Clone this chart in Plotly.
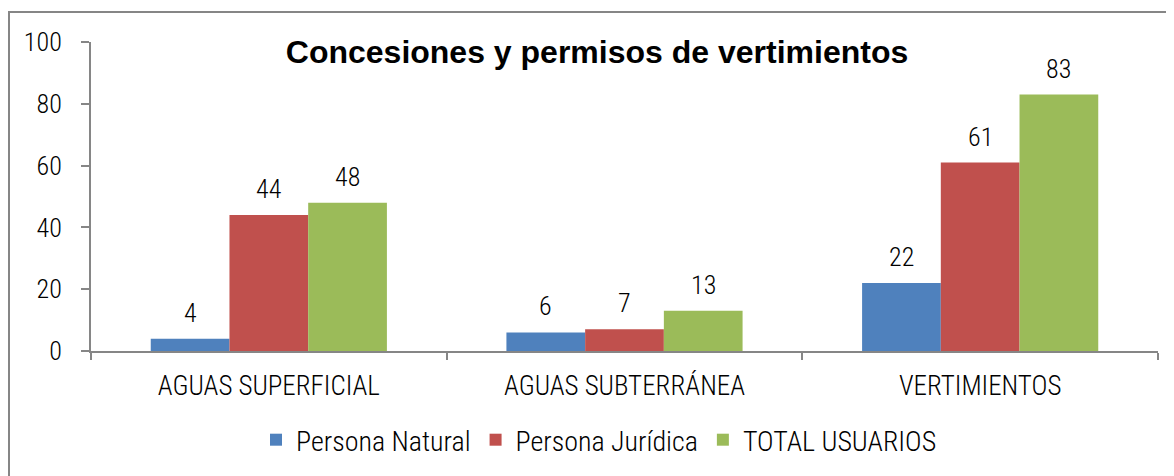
import plotly.graph_objects as go

categories = ["AGUAS SUPERFICIAL", "AGUAS SUBTERRÁNEA", "VERTIMIENTOS"]
persona_natural = [4, 6, 22]
persona_juridica = [44, 7, 61]
total_usuarios = [48, 13, 83]
y_ticks = [0, 20, 40, 60, 80, 100]

series = [
    ("Persona Natural", persona_natural, "#4F81BD"),
    ("Persona Jurídica", persona_juridica, "#C0504D"),
    ("TOTAL USUARIOS", total_usuarios, "#9BBB59"),
]

NARROW = "Liberation Sans Narrow, Arial Narrow, Roboto Condensed, sans-serif"
BARGAP = 0.336

fig = go.Figure()
for name, vals, color in series:
    fig.add_trace(go.Bar(
        x=categories, y=vals, name=name,
        marker=dict(color=color, line=dict(width=0)),
    ))

# value labels above bars
n = len(series)
slot = (1 - BARGAP) / n
annotations = []
for si, (name, vals, color) in enumerate(series):
    for ci, v in enumerate(vals):
        annotations.append(dict(
            x=ci + (si - (n - 1) / 2) * slot, y=v, xref="x", yref="y",
            text=str(v), showarrow=False, yanchor="middle", yshift=26,
            font=dict(family=NARROW, size=26, color="#000000", weight=300),
        ))

# page body adds an 8px offset; positions below are figure pixels
W, H = 1166, 468
L, R, T, B = 83, 16, 34, 124
pw, ph = W - L - R, H - T - B

def px_x(x):
    return (x - L) / pw

def px_y(y):
    return (H - B - y) / ph

fig.update_layout(
    width=W, height=H,
    margin=dict(l=L, r=R, t=T, b=B),
    paper_bgcolor="white", plot_bgcolor="white",
    barmode="group", bargap=BARGAP, bargroupgap=0,
    title=dict(
        text="<b>Concesiones y permisos de vertimientos</b>",
        font=dict(family="Liberation Sans, Arial, sans-serif", size=32, color="#000000"),
        xref="paper", x=px_x(589), xanchor="center",
        yref="container", y=1 - 44 / H, yanchor="middle",
    ),
    legend=dict(
        orientation="h", x=px_x(591), xanchor="center",
        y=px_y(432), yanchor="middle",
        font=dict(family=NARROW, size=28, color="#000000", weight=300),
        traceorder="normal",
    ),
    xaxis=dict(
        type="category", showline=True, linecolor="#868686", linewidth=2,
        ticks="outside", tickson="boundaries", ticklen=7, tickcolor="#868686", tickwidth=2,
        tickfont=dict(family=NARROW, size=27, color="#000000", weight=300),
        showgrid=False, zeroline=False, ticklabelstandoff=10,
    ),
    yaxis=dict(
        range=[0, 100], tickvals=y_ticks, showline=True, linecolor="#868686", linewidth=2,
        ticks="outside", ticklen=8, tickcolor="#868686", tickwidth=2,
        tickfont=dict(family=NARROW, size=26, color="#000000", weight=300),
        showgrid=False, zeroline=False, ticklabelstandoff=14,
    ),
    annotations=annotations,
    shapes=[dict(
        type="rect", xref="paper", yref="paper",
        x0=px_x(1), x1=px_x(1180), y0=px_y(4), y1=px_y(490),
        line=dict(color="#868686", width=2), fillcolor="rgba(0,0,0,0)", layer="below",
    )],
)

fig.write_html("out.html")
